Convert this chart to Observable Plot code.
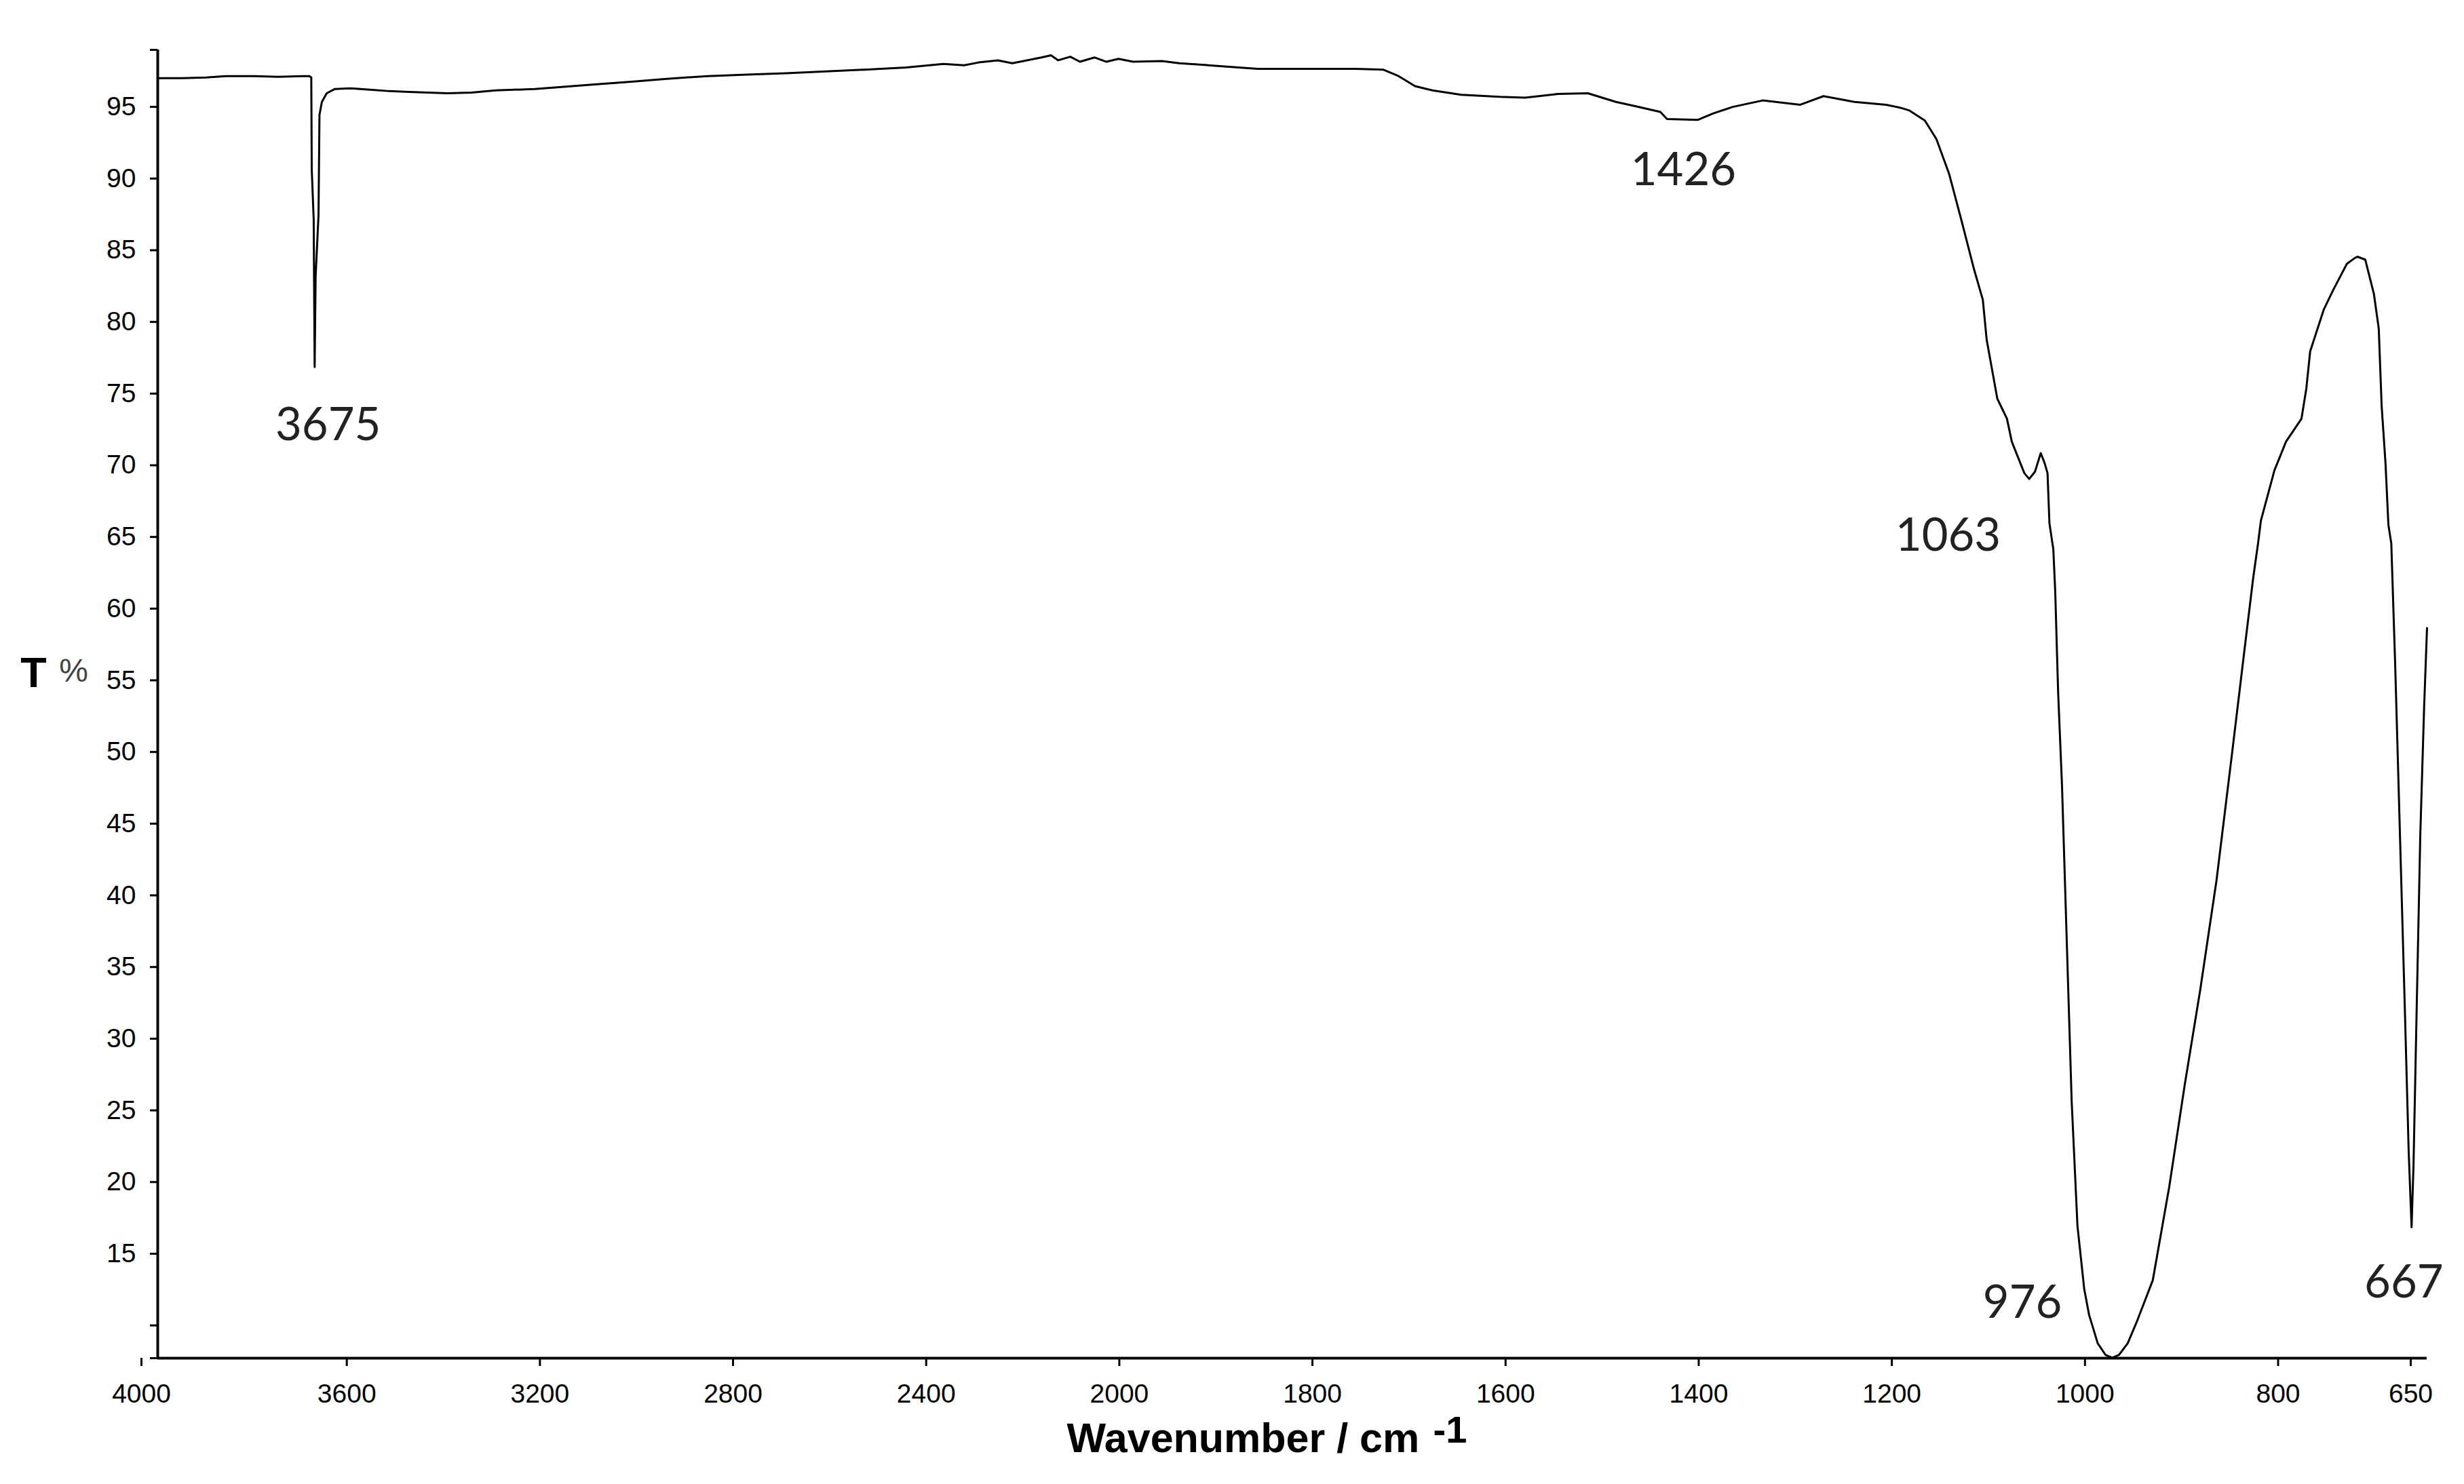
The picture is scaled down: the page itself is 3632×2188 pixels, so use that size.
<!DOCTYPE html>
<html>
<head>
<meta charset="utf-8">
<script src="https://cdn.jsdelivr.net/npm/d3@7"></script>
<script src="https://cdn.jsdelivr.net/npm/@observablehq/plot@0.6"></script>
<style>
  html, body { margin: 0; padding: 0; background: #ffffff; }
  #chart svg { display: block; }
</style>
</head>
<body>
<div id="chart"></div>
<script>
// ---- Data ----
const wavenumber = [
  4000, 3950, 3900, 3860, 3800, 3750, 3700, 3686, 3682, 3681, 3677, 3675, 3673, 3667, 3665, 3660, 3650, 3633,
  3600, 3560, 3520, 3480, 3440, 3400, 3350, 3300, 3219, 3100, 3024, 2950, 2861, 2780, 2699, 2600, 2536,
  2450, 2373, 2330, 2300, 2260, 2230, 2200, 2170, 2150, 2135, 2110, 2090, 2060, 2035, 2010, 1990, 1960,
  1942, 1900, 1861, 1800, 1760, 1731, 1715, 1698, 1680, 1650, 1610, 1584, 1550, 1519, 1490, 1470, 1444,
  1437, 1405, 1389, 1369, 1338, 1299, 1275, 1243, 1210, 1196, 1186, 1170, 1158, 1145, 1132, 1119, 1110,
  1106, 1095, 1085, 1080, 1067, 1062, 1056, 1050, 1046, 1043, 1041, 1037, 1035, 1032, 1028, 1023, 1018,
  1012, 1005, 1000, 991, 983, 976, 969, 960, 950, 934, 917, 901, 885, 868, 852, 839, 830, 825, 822, 808,
  796, 785, 780, 775, 771, 757, 747, 733, 725, 722, 714, 705, 700, 697, 693, 690, 687, 683, 678, 673,
  669, 666, 664, 661, 657, 653, 650
];
const transmittance = [
  97.85, 97.85, 97.9, 98.0, 98.0, 97.95, 98.0, 98.0, 97.9, 91.5, 88.0, 77.7, 84.0, 88.3, 95.3, 96.2, 96.8, 97.1,
  97.15, 97.05, 96.95, 96.9, 96.85, 96.8, 96.85, 97.0, 97.1, 97.4, 97.6, 97.8, 98.0, 98.1, 98.2, 98.35, 98.45,
  98.6, 98.85, 98.75, 98.95, 99.1, 98.9, 99.1, 99.3, 99.45, 99.1, 99.35, 99.0, 99.3, 99.0, 99.2, 99.0, 99.05,
  98.9, 98.7, 98.5, 98.5, 98.5, 98.45, 98.0, 97.3, 97.0, 96.7, 96.55, 96.5, 96.75, 96.8, 96.2, 95.9, 95.5,
  95.0, 94.95, 95.4, 95.85, 96.3, 96.0, 96.6, 96.2, 96.0, 95.8, 95.6, 94.9, 93.6, 91.2, 87.9, 84.5, 82.4,
  79.6, 75.5, 74.1, 72.5, 70.3, 69.9, 70.4, 71.7, 71.0, 70.3, 66.8, 65.0, 62.0, 55.0, 48.5, 37.5, 26.5,
  17.8, 13.4, 11.6, 9.6, 8.8, 8.6, 8.8, 9.6, 11.2, 14.0, 20.5, 27.6, 34.2, 41.9, 50.7, 58.0, 63.0, 65.4, 67.0, 70.5,
  72.5, 73.6, 74.1, 76.2, 78.8, 81.7, 83.1, 84.9, 85.3, 85.4, 85.2, 82.8, 80.4, 75.0, 71.0, 66.7, 65.4, 57.0, 45.0, 33.0,
  23.0, 17.7, 22.0, 32.0, 45.0, 54.0, 59.5
];

// Axis ticks
const xTicksInner = [3600, 3200, 2800, 2400, 2000, 1800, 1600, 1400, 1200, 1000, 800];
const xTicksEnds = [4000, 650];
const yTicks = [10, 15, 20, 25, 30, 35, 40, 45, 50, 55, 60, 65, 70, 75, 80, 85, 90, 95];
const yDomain = [8.565, 99.83];
const xDomain = [4000, 2000, 650];   // scale changes at 2000 cm-1

// Peak annotations (label, position in data units)
const peakLabels = ["3675", "1426", "1063", "976", "667"];
const peakLabelX = [3647, 1420, 1146, 1069, 674];
const peakLabelY = [73.6, 91.4, 65.9, 12.4, 13.8];

// Axis titles
const xTitle = "Wavenumber / cm";
const xTitleSup = "-1";
const yTitleMain = "T";
const yTitleUnit = "%";

// ---- Layout ----
const W = 3632, H = 2188;
const mL = 232, mR = 55, mT = 73, mB = 186;
const xBreak = mL + (W - mL - mR) * 5 / 11.75;

const spectrum = wavenumber.map((w, i) => ({w, t: transmittance[i]}));
const peaks = peakLabels.map((s, i) => ({s, x: peakLabelX[i], y: peakLabelY[i]}));
const fmt = d => String(d);

const chart = Plot.plot({
  width: W,
  height: H,
  marginLeft: mL,
  marginRight: mR,
  marginTop: mT,
  marginBottom: mB,
  style: {fontFamily: "'Liberation Sans', Arial, sans-serif", fontSize: "39px", color: "#000", background: "#ffffff"},
  x: {type: "linear", domain: xDomain, range: [mL, xBreak, W - mR], label: null},
  y: {type: "linear", domain: yDomain, label: null},
  marks: [
    Plot.axisY(yTicks, {tickSize: 11, tickPadding: 21, dy: -18, strokeWidth: 3, fontSize: 39,
      tickFormat: d => (d === 10 ? "" : fmt(d)), label: null}),
    Plot.axisY(yDomain, {tickSize: 11, strokeWidth: 3, tickFormat: () => "", label: null}),
    Plot.axisX(xTicksInner, {tickSize: 12, tickPadding: 26, dx: -6, strokeWidth: 3, fontSize: 39,
      tickFormat: fmt, label: null}),
    Plot.axisX(xTicksEnds, {tickSize: 12, tickPadding: 26, dx: -24, strokeWidth: 3, fontSize: 39,
      tickFormat: fmt, label: null}),
    Plot.ruleX([xDomain[0]], {y1: yDomain[0], y2: yDomain[1], stroke: "#000", strokeWidth: 4}),
    Plot.ruleY([yDomain[0]], {x1: xDomain[0], x2: xDomain[2], stroke: "#000", strokeWidth: 4}),
    Plot.line(spectrum, {x: "w", y: "t", stroke: "#000", strokeWidth: 3, curve: "linear"}),
    Plot.text(peaks, {x: "x", y: "y", text: "s", fontFamily: "Lato, 'Open Sans', sans-serif",
      fontSize: 67, fill: "#222"}),
    Plot.text([xTitle], {frameAnchor: "bottom-left", textAnchor: "start", dx: 1340, dy: 138,
      fontWeight: "bold", fontSize: 61, fill: "#000"}),
    Plot.text([xTitleSup], {frameAnchor: "bottom-left", textAnchor: "start", dx: 1880, dy: 124,
      fontWeight: "bold", fontSize: 56, fill: "#000"}),
    Plot.text([yTitleMain], {frameAnchor: "top-left", textAnchor: "middle", dx: -183, dy: 895,
      fontWeight: "bold", fontSize: 63, fill: "#000"}),
    Plot.text([yTitleUnit], {frameAnchor: "top-left", textAnchor: "middle", dx: -124, dy: 897,
      fontSize: 48, fill: "#444"})
  ]
});

document.getElementById("chart").appendChild(chart);
</script>
</body>
</html>
